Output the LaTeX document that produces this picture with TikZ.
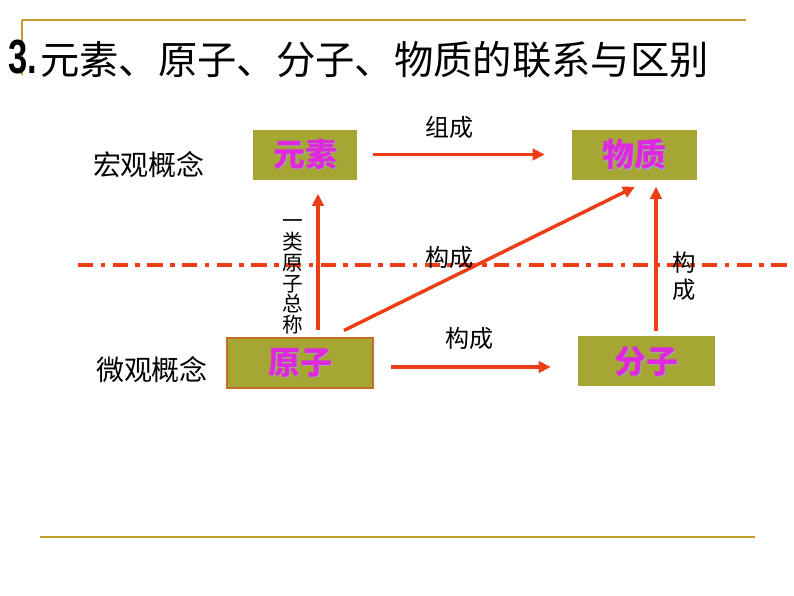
\documentclass[tikz,border=0pt]{standalone}
\usepackage{fontspec}
\usepackage{graphicx}
\setmainfont{Liberation Sans}
\newfontfamily\cjk{Noto Sans CJK SC}
\usetikzlibrary{arrows.meta,calc}
\definecolor{gold}{RGB}{196,156,40}
\definecolor{olive}{RGB}{166,166,52}
\definecolor{arrred}{RGB}{236,62,22}
\definecolor{mag}{RGB}{222,40,222}
\definecolor{brownb}{RGB}{196,110,40}
\tikzset{
  rule/.style={draw=gold,line width=1.5pt},
  conceptbox/.style={fill=olive,minimum height=37.5pt,inner sep=0pt},
  boxtext/.style={font=\cjk\bfseries\fontsize{24}{28}\selectfont,text=mag},
  arr/.style={draw=arrred,line width=2.6pt,-{Triangle[length=9pt,width=8.5pt]}},
  lbl/.style={font=\cjk\fontsize{18}{22}\selectfont},
  side/.style={font=\cjk\fontsize{21}{24}\selectfont},
}
\begin{document}
\begin{tikzpicture}[x=0.75pt,y=-0.75pt]
\useasboundingbox (0,0) rectangle (794,596);
% frame rules
\draw[rule] (22,20) -- (746,20);
\draw[rule] (22,20) -- (22,75);
\draw[rule] (40,537) -- (755,537);
% title
\node[anchor=base west,inner sep=0pt,font=\bfseries\fontsize{36}{40}\selectfont] (num) at (8,74) {\scalebox{0.72}[1]{3.}};
\node[anchor=west,inner sep=0pt,font=\cjk\fontsize{29.5}{34}\selectfont] (title) at (40,60) {元素、原子、分子、物质的联系与区别};
% dash-dot line
\draw[draw=arrred,line width=2.6pt,dash pattern=on 11.5pt off 5.5pt on 3.5pt off 5.5pt] (78,265) -- (792,265);
% boxes
\node[conceptbox,minimum width=78pt] (yuansu) at (305,154.5) {};
\node[conceptbox,minimum width=93.75pt] (wuzhi) at (634.5,154.5) {};
\node[conceptbox,minimum width=109.5pt,draw=brownb,line width=0.8pt] (yuanzi) at (300,363) {};
\node[conceptbox,minimum width=102.75pt] (fenzi) at (646.5,361) {};
% box texts with shadow
\foreach \n/\t in {yuansu/元素,wuzhi/物质,yuanzi/原子,fenzi/分子}{
  \node[boxtext,text=black!35] at ([shift={(1.2,1.2)}]\n.center) {\t};
  \node[boxtext] (\n-t) at (\n.center) {\t};
}
% side labels
\node[side] (macro) at (149,165) {宏观概念};
\node[side] (micro) at (152,370) {微观概念};
% arrows
\draw[arr] ([shift={(16,0)}]yuansu.east) -- ([shift={(-27,0)}]wuzhi.west);
\coordinate (ax) at (318,0);
\coordinate (bx) at (656,0);
\draw[arr] ([shift={(0,-7)}]yuanzi.north -| ax) -- ([shift={(0,14)}]yuansu.south -| ax);
\draw[arr] ([shift={(44,-7)}]yuanzi.north) -- ([shift={(0.5,7)}]wuzhi.south);
\draw[arr] ([shift={(0,-5)}]fenzi.north -| bx) -- ([shift={(0,7)}]wuzhi.south -| bx);
\draw[arr] ([shift={(17,4)}]yuanzi.east) -- ([shift={(-27,6)}]fenzi.west);
% arrow labels
\node[lbl] (l1) at (449,127) {组成};
\node[lbl] (l2) at (449,257) {构成};
\node[lbl] (l3) at (469,338) {构成};
\node[lbl,align=center,font=\cjk\fontsize{17.5}{20}\selectfont] (l4) at (684,276) {构\\成};
\node[align=center,inner sep=0pt,font=\cjk\fontsize{15.5}{15.6}\selectfont] (l5) at (293,277) {一\\类\\原\\子\\总\\称};
\end{tikzpicture}
\end{document}
